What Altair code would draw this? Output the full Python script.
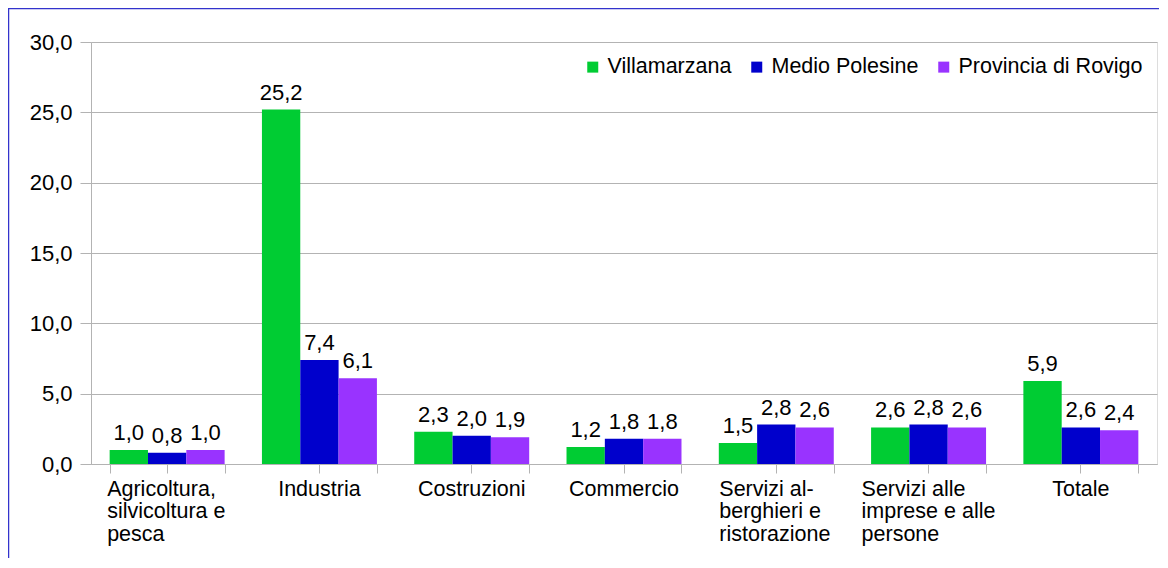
import altair as alt
import pandas as pd

categories = [
    "Agricoltura,\nsilvicoltura e\npesca",
    "Industria",
    "Costruzioni",
    "Commercio",
    "Servizi al-\nberghieri e\nristorazione",
    "Servizi alle\nimprese e alle\npersone",
    "Totale",
]
series = ["Villamarzana", "Medio Polesine", "Provincia di Rovigo"]
villamarzana = [1.0, 25.2, 2.3, 1.2, 1.5, 2.6, 5.9]
medio_polesine = [0.8, 7.4, 2.0, 1.8, 2.8, 2.8, 2.6]
provincia_rovigo = [1.0, 6.1, 1.9, 1.8, 2.6, 2.6, 2.4]
y_ticks = [0, 5, 10, 15, 20, 25, 30]
colors = ["#00cc33", "#0000cc", "#9933ff"]

rows = []
for name, vals in zip(series, [villamarzana, medio_polesine, provincia_rovigo]):
    for c, v in zip(categories, vals):
        rows.append({"cat": c, "serie": name, "value": v})
df = pd.DataFrame(rows)

FONT = "Liberation Sans"
FS = 22
XFS = 21.5
GRAY = "#b3b3b3"

label_offset = {
    "condition": [
        {"test": "indexof(datum.value, 'Agricoltura') >= 0", "value": -60},
        {"test": "indexof(datum.value, 'berghieri') >= 0", "value": -57},
        {"test": "indexof(datum.value, 'imprese') >= 0", "value": -67},
    ],
    "value": 0,
}
label_align = {
    "condition": {"test": "indexof(datum.value, '\\n') >= 0", "value": "left"},
    "value": "center",
}

xscale = alt.Scale(paddingInner=0.245, paddingOuter=0.1225)

base = alt.Chart(df)

bars = base.mark_bar().encode(
    x=alt.X(
        "cat:N",
        sort=categories,
        scale=xscale,
        axis=alt.Axis(
            orient="bottom",
            title=None,
            labelAngle=0,
            labelExpr="split(datum.label, '\\n')",
            labelFont=FONT,
            labelFontSize=XFS,
            labelColor="#000000",
            labelLineHeight=22.5,
            labelPadding=5,
            labelBaseline="top",
            labelAlign=label_align,
            labelOffset=label_offset,
            labelLimit=0,
            tickSize=9,
            tickColor=GRAY,
            domainColor=GRAY,
            grid=False,
        ),
    ),
    xOffset=alt.XOffset("serie:N", sort=series, scale=alt.Scale(paddingInner=0, paddingOuter=0)),
    y=alt.Y(
        "value:Q",
        scale=alt.Scale(domain=[0, 30], nice=False),
        axis=alt.Axis(
            title=None,
            values=y_ticks,
            labelExpr="replace(format(datum.value, '.1f'), '.', ',')",
            labelFont=FONT,
            labelFontSize=FS,
            labelColor="#000000",
            labelPadding=8,
            tickSize=11,
            tickColor=GRAY,
            domainColor=GRAY,
            gridColor=GRAY,
        ),
    ),
    color=alt.Color(
        "serie:N",
        sort=series,
        scale=alt.Scale(domain=series, range=colors),
        legend=alt.Legend(
            title=None,
            orient="top-right",
            direction="horizontal",
            offset=14,
            padding=0,
            symbolType="square",
            symbolSize=121,
            symbolStrokeWidth=0,
            symbolOpacity=1,
            labelFont=FONT,
            labelFontSize=21.5,
            labelColor="#000000",
            labelOffset=4,
            labelLimit=0,
            columnPadding=14,
        ),
    ),
)

texts = base.transform_calculate(
    label="replace(format(datum.value, '.1f'), '.', ',')"
).mark_text(
    dy=-10, baseline="alphabetic", font=FONT, fontSize=FS, color="#000000"
).encode(
    x=alt.X(
        "cat:N",
        sort=categories,
        scale=xscale,
        axis=alt.Axis(
            orient="bottom",
            title=None,
            labels=False,
            domain=False,
            grid=False,
            tickBand="extent",
            tickSize=9,
            tickColor=GRAY,
        ),
    ),
    xOffset=alt.XOffset("serie:N", sort=series),
    y=alt.Y("value:Q"),
    text="label:N",
)

border = alt.Chart(pd.DataFrame({"a": [0]})).mark_rect(
    fill="transparent", stroke="#3333cc", strokeWidth=1.5
).encode(
    x=alt.value(-82.5), x2=alt.value(1200), y=alt.value(-33.5), y2=alt.value(700)
)

chart = (
    alt.layer(bars, texts, border)
    .resolve_axis(x="independent")
    .properties(
        width=1066,
        height=422,
        autosize=alt.AutoSizeParams(type="none"),
        padding={"left": 83, "top": 34, "right": 2, "bottom": 94},
    )
    .configure_view(stroke=GRAY, strokeWidth=1)
    .configure(font=FONT)
)

chart.save("out.html", embed_options={"renderer": "svg", "actions": False})
